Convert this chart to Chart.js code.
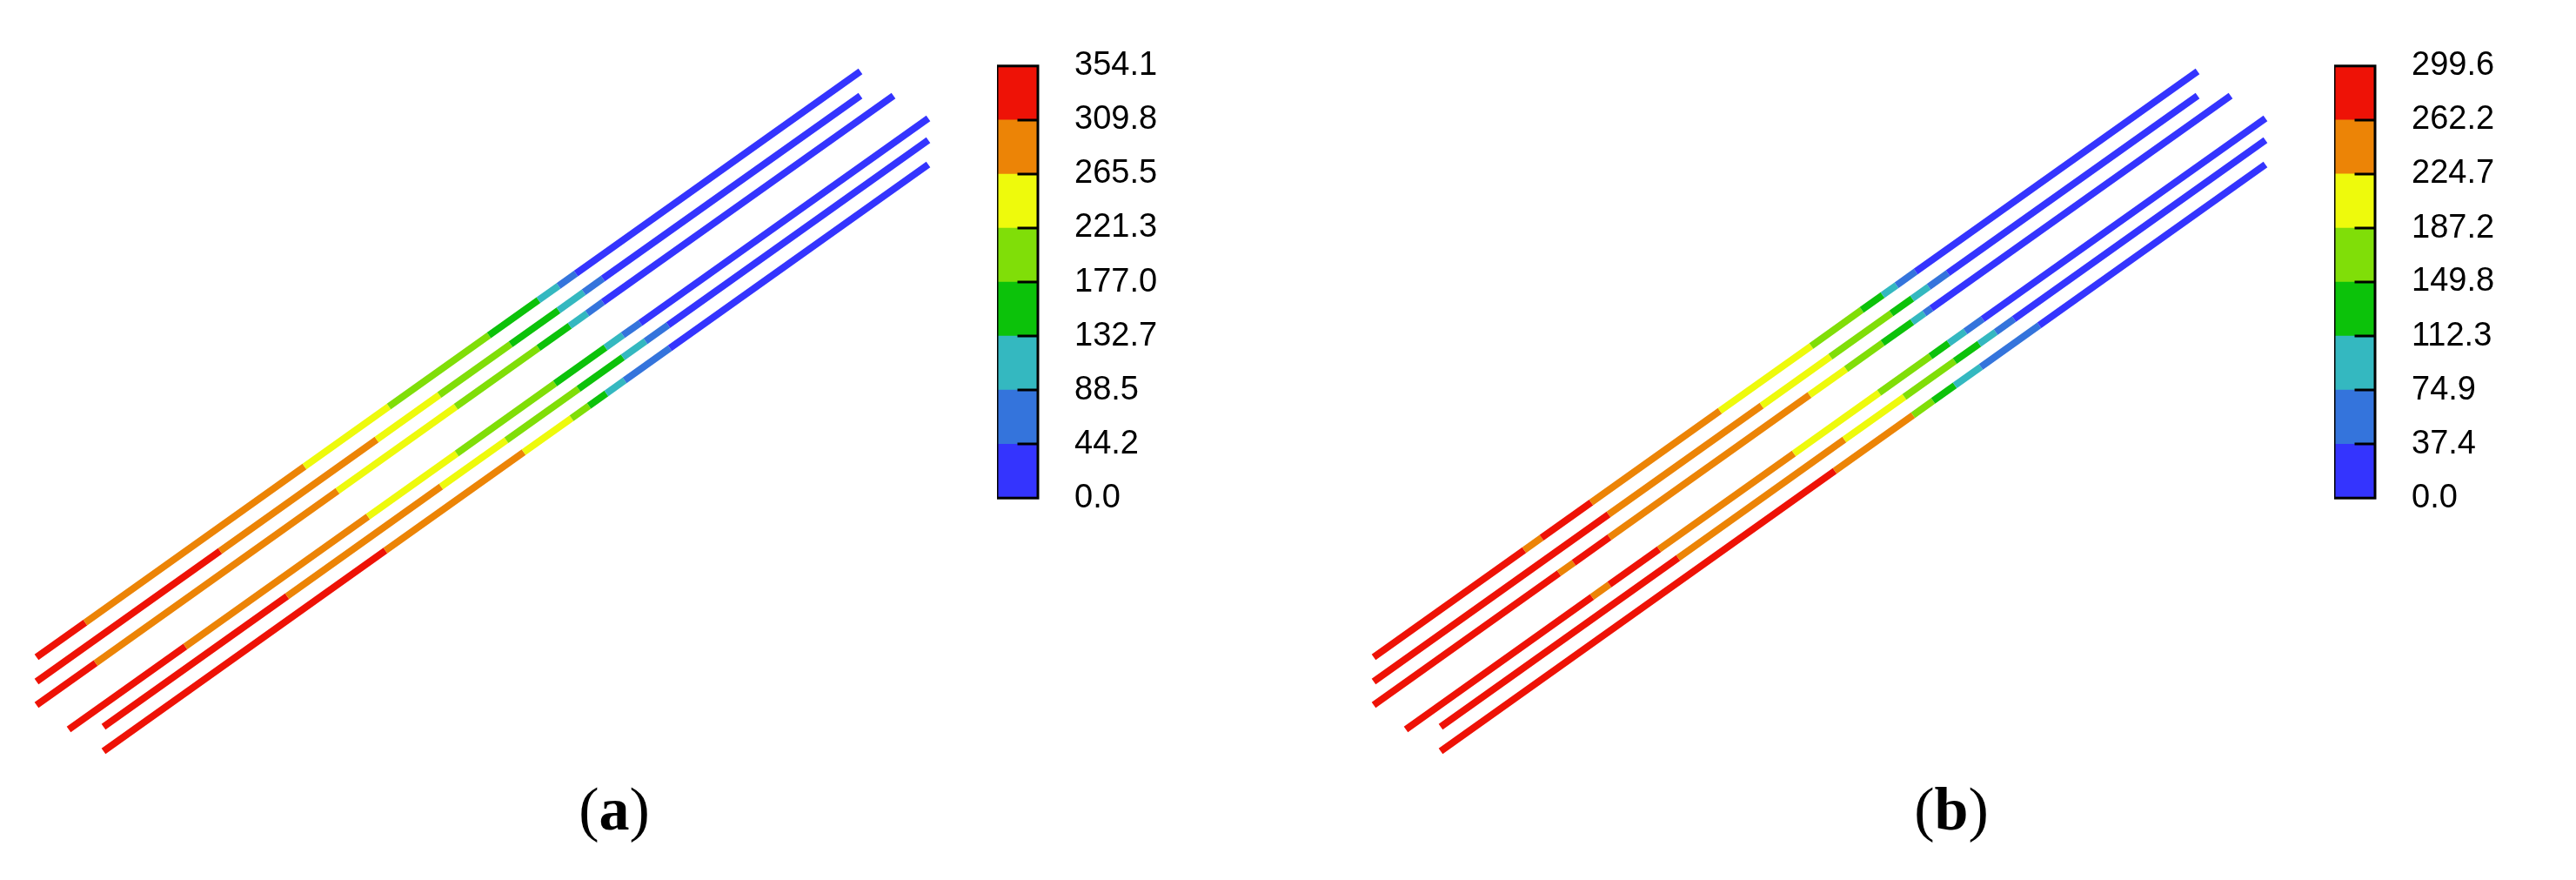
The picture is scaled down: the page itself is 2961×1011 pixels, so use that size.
<!DOCTYPE html>
<html>
<head>
<meta charset="utf-8">
<script src="https://cdn.jsdelivr.net/npm/chart.js@4/dist/chart.umd.min.js"></script>
<style>
  body { margin: 0; background: #fff; width: 2961px; height: 1011px; overflow: hidden; position: relative; }
  .box { position: absolute; }
  .cap { position: absolute; width: 200px; text-align: center; font-family: 'Liberation Serif', 'Times New Roman', serif; font-size: 70px; line-height: 70px; color: #000; }
</style>
</head>
<body>
<div class="box" style="left:0;top:0;width:1100px;height:900px"><canvas id="plotA"></canvas></div>
<div class="box" style="left:1537px;top:0;width:1100px;height:900px"><canvas id="plotB"></canvas></div>
<div class="box" style="left:1146px;top:11px;width:188px;height:626px"><canvas id="barA"></canvas></div>
<div class="box" style="left:2683px;top:11px;width:188px;height:626px"><canvas id="barB"></canvas></div>
<div class="cap" style="left:606px;top:895px">(<b>a</b>)</div>
<div class="cap" style="left:2143px;top:895px">(<b>b</b>)</div>
<script>
// contour bands, lowest to highest
var bandColors = ['#3434fe', '#3474dc', '#34b8c0', '#0cc20a', '#80de08', '#eefa0c', '#ec8406', '#ee1206'];
var levelsA = [0.0, 44.2, 88.5, 132.7, 177.0, 221.3, 265.5, 309.8, 354.1];
var levelsB = [0.0, 37.4, 74.9, 112.3, 149.8, 187.2, 224.7, 262.2, 299.6];

// panel (a): break points along each tube, band index of each segment
var a1x = [42, 98, 350, 447, 562, 619, 642, 662, 989];
var a1y = [755, 715.2, 536.0, 467.0, 385.3, 344.8, 328.4, 314.2, 82];
var a1b = [7, 6, 5, 4, 3, 2, 1, 0];
var a2x = [42, 253, 433, 505, 587, 642, 671, 693, 989];
var a2y = [783, 633.0, 505.0, 453.8, 395.5, 356.4, 335.8, 320.1, 110];
var a2b = [7, 6, 5, 4, 3, 2, 1, 0];
var a3x = [42, 110, 388, 524, 619, 655, 675, 693, 1027];
var a3y = [810, 761.7, 564.0, 467.3, 399.8, 374.2, 359.9, 347.1, 110];
var a3b = [7, 6, 5, 4, 3, 2, 1, 0];
var a4x = [79, 213, 423, 525, 638, 696, 716, 736, 1067];
var a4y = [838, 742.7, 593.4, 520.9, 440.6, 399.3, 385.1, 370.9, 136];
var a4b = [7, 6, 5, 4, 3, 2, 1, 0];
var a5x = [119, 330, 507, 582, 665, 716, 742, 768, 1067];
var a5y = [835, 685.0, 559.1, 505.8, 446.8, 410.5, 392.0, 373.6, 161];
var a5b = [7, 6, 5, 4, 3, 2, 1, 0];
var a6x = [119, 443, 602, 657, 677, 697, 718, 770, 1067];
var a6y = [863, 632.6, 519.6, 480.5, 466.3, 452.0, 437.1, 400.1, 189];
var a6b = [7, 6, 5, 4, 3, 2, 1, 0];

// panel (b)
var b1x = [42, 215, 235, 292, 440, 545, 603, 627, 643, 665, 989];
var b1y = [755, 632.0, 617.8, 577.2, 472.0, 397.4, 356.1, 339.1, 327.7, 312.0, 82];
var b1b = [7, 6, 7, 6, 5, 4, 3, 2, 1, 0];
var b2x = [42, 312, 488, 567, 637, 661, 680, 702, 989];
var b2y = [783, 591.0, 465.9, 409.7, 360.0, 342.9, 329.4, 313.7, 110];
var b2b = [7, 6, 5, 4, 3, 2, 1, 0];
var b3x = [42, 255, 272, 313, 543, 585, 627, 661, 675, 683, 1027];
var b3y = [810, 658.6, 646.5, 617.3, 453.8, 423.9, 394.1, 369.9, 359.9, 354.2, 110];
var b3b = [7, 6, 7, 6, 5, 4, 3, 2, 1, 0];
var b4x = [79, 293, 313, 370, 525, 623, 682, 703, 722, 742, 1067];
var b4y = [838, 685.8, 671.6, 631.1, 520.9, 451.2, 409.3, 394.3, 380.8, 366.6, 136];
var b4b = [7, 6, 7, 6, 5, 4, 3, 2, 1, 0];
var b5x = [119, 392, 583, 652, 710, 738, 757, 778, 1067];
var b5y = [835, 640.9, 505.1, 456.0, 414.8, 394.9, 381.4, 366.5, 161];
var b5b = [7, 6, 5, 4, 3, 2, 1, 0];
var b6x = [119, 572, 662, 685, 710, 740, 807, 1067];
var b6y = [863, 540.9, 476.9, 460.6, 442.8, 421.5, 373.8, 189];
var b6b = [7, 6, 4, 3, 2, 1, 0];

function tube(xs, ys, bands) {
  return {
    data: xs.map(function(x, i) { return {x: x, y: ys[i]}; }),
    bands: bands,
    showLine: true,
    pointRadius: 0,
    borderWidth: 8,
    borderCapStyle: 'butt',
    borderColor: bandColors[bands[0]],
    segment: {
      borderColor: function(ctx) {
        var ds = ctx.chart.data.datasets[ctx.datasetIndex];
        return bandColors[ds.bands[ctx.p0DataIndex]];
      }
    }
  };
}

function makePlot(id, sets) {
  new Chart(document.getElementById(id), {
    type: 'scatter',
    data: { datasets: sets },
    options: {
      responsive: true,
      maintainAspectRatio: false,
      animation: false,
      layout: { padding: 0 },
      plugins: { legend: { display: false }, tooltip: { enabled: false } },
      scales: {
        x: { type: 'linear', min: 0, max: 1100, display: false },
        y: { type: 'linear', min: 0, max: 900, reverse: true, display: false }
      }
    }
  });
}

makePlot('plotA', [tube(a1x, a1y, a1b), tube(a2x, a2y, a2b), tube(a3x, a3y, a3b),
                   tube(a4x, a4y, a4b), tube(a5x, a5y, a5b), tube(a6x, a6y, a6b)]);
makePlot('plotB', [tube(b1x, b1y, b1b), tube(b2x, b2y, b2b), tube(b3x, b3y, b3b),
                   tube(b4x, b4y, b4b), tube(b5x, b5y, b5b), tube(b6x, b6y, b6b)]);

// outline and half-width level marks of the legend bar
var barFrame = {
  id: 'barFrame',
  afterDraw: function(chart) {
    var c = chart.ctx, a = chart.chartArea, s = chart.scales.y;
    var lv = chart.options.levels;
    c.save();
    c.strokeStyle = '#000';
    c.lineWidth = 3;
    c.strokeRect(a.left, a.top, a.right - a.left, a.bottom - a.top);
    var mid = (a.left + a.right) / 2;
    for (var i = 1; i < lv.length - 1; i++) {
      var y = Math.round(s.getPixelForValue(lv[i]));
      c.beginPath();
      c.moveTo(mid, y);
      c.lineTo(a.right, y);
      c.stroke();
    }
    c.restore();
  }
};

function makeBar(id, levels) {
  var sets = [];
  for (var i = 0; i < levels.length - 1; i++) {
    sets.push({ data: [[levels[i], levels[i + 1]]], backgroundColor: bandColors[i], borderWidth: 0,
                barPercentage: 1, categoryPercentage: 1 });
  }
  new Chart(document.getElementById(id), {
    type: 'bar',
    data: { labels: ['T'], datasets: sets },
    plugins: [barFrame],
    options: {
      levels: levels,
      responsive: true,
      maintainAspectRatio: false,
      animation: false,
      layout: { padding: { top: 40, bottom: 40, left: 0, right: 0 } },
      plugins: { legend: { display: false }, tooltip: { enabled: false } },
      scales: {
        x: { stacked: true, display: false },
        y: {
          position: 'right',
          min: levels[0],
          max: levels[levels.length - 1],
          afterBuildTicks: function(s) { s.ticks = levels.map(function(v) { return {value: v}; }); },
          afterFit: function(s) { s.width = 141; },
          grid: { display: false, drawTicks: false },
          border: { display: false },
          ticks: {
            autoSkip: false,
            padding: 42,
            color: '#000',
            font: { family: 'Liberation Sans', size: 38 },
            callback: function(v) { return Number(v).toFixed(1); }
          }
        }
      }
    }
  });
}

makeBar('barA', levelsA);
makeBar('barB', levelsB);
</script>
</body>
</html>
